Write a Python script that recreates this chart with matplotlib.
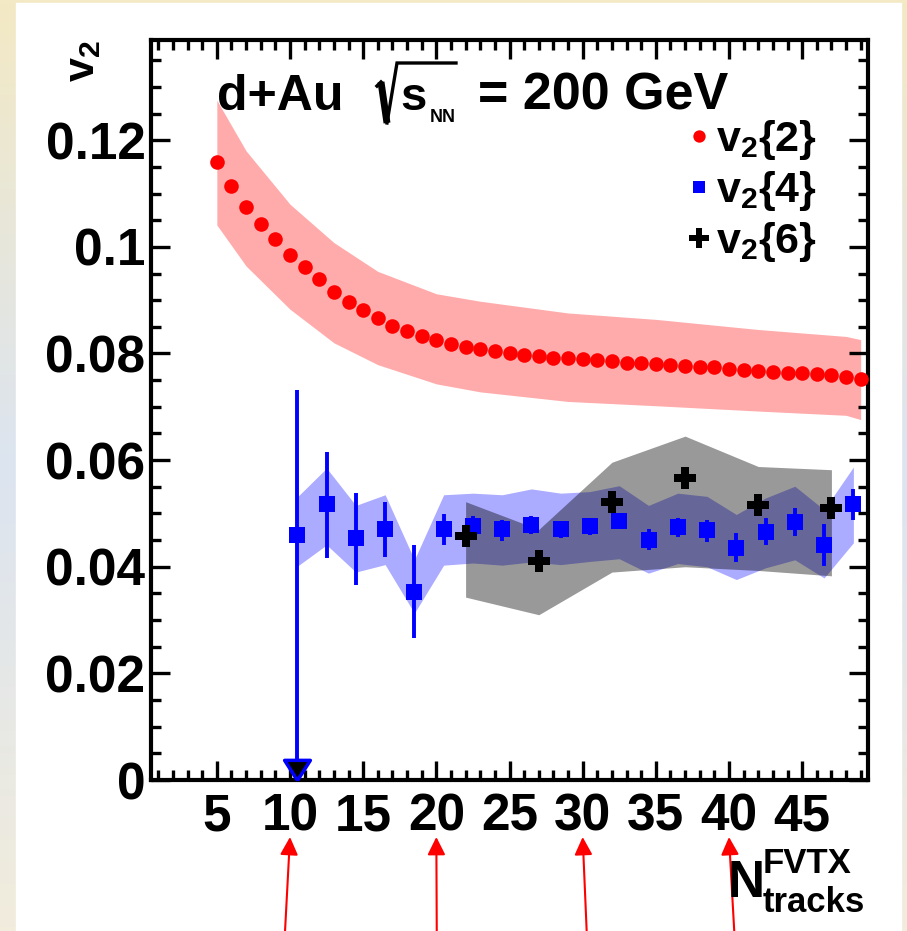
import numpy as np
import matplotlib.pyplot as plt
from matplotlib.lines import Line2D
from matplotlib.patches import Rectangle
from matplotlib.ticker import MultipleLocator, FuncFormatter

plt.rcParams['font.family'] = ['Liberation Sans', 'DejaVu Sans']
plt.rcParams['font.weight'] = 'bold'
plt.rcParams['mathtext.fontset'] = 'custom'
plt.rcParams['mathtext.rm'] = 'Liberation Sans:bold'
plt.rcParams['mathtext.it'] = 'Liberation Sans:bold'
plt.rcParams['mathtext.bf'] = 'Liberation Sans:bold'
plt.rcParams['mathtext.default'] = 'rm'

W, H = 907, 931

# v2{2}: one point per N_tracks bin
n_2 = list(range(5, 50))
v2_2 = [0.1160, 0.1114, 0.1074, 0.1043, 0.1014, 0.0984, 0.0962, 0.0939, 0.0916,
        0.0897, 0.0881, 0.0866, 0.0851, 0.0843, 0.0833, 0.0826, 0.0818, 0.0812,
        0.0808, 0.0804, 0.0801, 0.0797, 0.0796, 0.0792, 0.0791, 0.0789, 0.0787,
        0.0785, 0.0783, 0.0782, 0.0780, 0.0778, 0.0777, 0.0775, 0.0775, 0.0771,
        0.0769, 0.0768, 0.0766, 0.0764, 0.0763, 0.0762, 0.0759, 0.0756, 0.0752]
# v2{2} systematic band
sys2_n = [5, 7, 10, 13, 16, 20, 23, 29, 35, 42, 48, 49]
sys2_hi = [0.1275, 0.1180, 0.1080, 0.1008, 0.0954, 0.0912, 0.0898, 0.0876,
           0.0864, 0.0845, 0.0832, 0.0826]
sys2_lo = [0.1041, 0.0964, 0.0883, 0.0820, 0.0779, 0.0743, 0.0728, 0.0710,
           0.0702, 0.0692, 0.0684, 0.0676]

# v2{4}
n_4 = [10.5, 12.5, 14.5, 16.5, 18.5, 20.5, 22.5, 24.5, 26.5, 28.5,
       30.5, 32.5, 34.5, 36.5, 38.5, 40.5, 42.5, 44.5, 46.5, 48.5]
v2_4 = [0.0460, 0.0517, 0.0453, 0.0470, 0.0353, 0.0470, 0.0476, 0.0471, 0.0479, 0.0471,
        0.0476, 0.0485, 0.0451, 0.0474, 0.0468, 0.0436, 0.0466, 0.0483, 0.0440, 0.0518]
v2_4_err_up = [0.0272, 0.0098, 0.0085, 0.0051, 0.0087, 0.0028, 0.0020, 0.0017, 0.0017, 0.0014,
               0.0015, 0.0015, 0.0020, 0.0018, 0.0019, 0.0027, 0.0026, 0.0027, 0.0041, 0.0027]
v2_4_err_dn = [0.0460, 0.0100, 0.0088, 0.0052, 0.0087, 0.0029, 0.0018, 0.0022, 0.0017, 0.0017,
               0.0016, 0.0015, 0.0019, 0.0018, 0.0021, 0.0028, 0.0026, 0.0025, 0.0039, 0.0030]
sys4_hi = [0.0531, 0.0585, 0.0515, 0.0535, 0.0413, 0.0535, 0.0538, 0.0535, 0.0546, 0.0538,
           0.0541, 0.0552, 0.0515, 0.0538, 0.0532, 0.0498, 0.0529, 0.0551, 0.0507, 0.0587]
sys4_lo = [0.0401, 0.0441, 0.0390, 0.0404, 0.0313, 0.0403, 0.0407, 0.0403, 0.0409, 0.0404,
           0.0410, 0.0415, 0.0388, 0.0406, 0.0400, 0.0376, 0.0398, 0.0413, 0.0379, 0.0445]

# v2{6}
n_6 = [22, 27, 32, 37, 42, 47]
v2_6 = [0.0458, 0.0411, 0.0522, 0.0566, 0.0516, 0.0511]
sys6_hi = [0.0522, 0.0470, 0.0596, 0.0645, 0.0588, 0.0582]
sys6_lo = [0.0343, 0.0310, 0.0390, 0.0400, 0.0393, 0.0383]

xticks = [5, 10, 15, 20, 25, 30, 35, 40, 45]
arrow_ticks = [10, 20, 30, 40]
arrow_tail_dx = [-3.6, 0.3, 2.9, 3.8]   # points, tail offset of each red arrow


def fx(px):
    return px / W


def fy(py):
    return 1 - py / H


fig = plt.figure(figsize=(W / 100, H / 100), dpi=100)

# slide-style background with a white panel
bg = fig.add_axes([0, 0, 1, 1], zorder=-10)
stops = [0.0, 0.5, 1.0]
cols = np.array([[243, 233, 196], [220, 228, 240], [241, 236, 220]]) / 255
t = np.linspace(0, 1, 256)
grad = np.stack([np.interp(t, stops, cols[:, i]) for i in range(3)], axis=-1)[:, None, :]
bg.imshow(grad, aspect='auto', extent=[0, 1, 0, 1], origin='upper')
bg.add_patch(Rectangle((fx(16), 0), (901 - 16) / W, (H - 3) / H,
                       transform=bg.transAxes, color='white'))
bg.set_xlim(0, 1)
bg.set_ylim(0, 1)
bg.axis('off')

ax = fig.add_axes([fx(151), fy(780), (868 - 151) / W, (780 - 40) / H])
ax.set_xlim(0.5, 49.5)
ax.set_ylim(0, 0.1388)

# systematic bands
ax.fill_between(sys2_n, sys2_lo, sys2_hi, color='red', alpha=0.33, lw=0, zorder=1)
ax.fill_between(n_4, sys4_lo, sys4_hi, color='blue', alpha=0.33, lw=0, zorder=2)
ax.fill_between(n_6, sys6_lo, sys6_hi, color='black', alpha=0.4, lw=0, zorder=3)

# points
ax.plot(n_2, v2_2, ls='none', marker='o', ms=10.5, mew=0, color='red', zorder=5)
ax.errorbar(n_4, v2_4, yerr=[v2_4_err_dn, v2_4_err_up], fmt='s', ms=11.5, mew=0,
            color='blue', elinewidth=2.8, capsize=0, zorder=6)
# lower error of the first v2{4} point runs off the axis
arrow_tip = [(0, 0), (-0.64, 1), (0.64, 1), (0, 0)]
ax.plot([n_4[0]], [v2_4[0] - v2_4_err_dn[0]], ls='none', marker=arrow_tip, ms=29,
        mfc='black', mec='blue', mew=2.5, zorder=8, clip_on=False)
ax.plot(n_6, v2_6, ls='none', marker='P', ms=16.5, mew=0, color='black', zorder=7)

# axes styling
for s in ax.spines.values():
    s.set_linewidth(3)
ax.set_xticks(xticks)
ax.xaxis.set_minor_locator(MultipleLocator(1))
ax.yaxis.set_major_locator(MultipleLocator(0.02))
ax.yaxis.set_minor_locator(MultipleLocator(0.005))
ax.yaxis.set_major_formatter(FuncFormatter(lambda v, p: '%g' % round(v, 3)))
ax.tick_params(which='both', direction='in', top=True, right=True, width=2.4,
               labelsize=37)
ax.tick_params(which='major', length=14)
ax.tick_params(which='minor', length=7)
ax.tick_params(axis='x', pad=9)
ax.tick_params(axis='y', pad=4)

# legend
handles = [Line2D([], [], ls='none', marker='o', ms=8.9, mew=0, color='red'),
           Line2D([], [], ls='none', marker='s', ms=9.1, mew=0, color='blue'),
           Line2D([], [], ls='none', marker='P', ms=13.7, mew=0, color='black')]
labels = [r'$v_2\{2\}$', r'$v_2\{4\}$', r'$v_2\{6\}$']
ax.legend(handles, labels, loc='upper left', bbox_to_anchor=(0.746, 0.895),
          frameon=False, fontsize=31, borderpad=0, borderaxespad=0,
          handlelength=0.6, handletextpad=0.1, labelspacing=0.17)

# collision system and energy
fig.text(fx(216.7), fy(110), 'd+Au', fontsize=36, va='baseline', ha='left')
radical_x = [377, 381, 387, 397, 456]
radical_y = [86, 82, 123, 63, 63]
fig.add_artist(Line2D([fx(v) for v in radical_x[1:3]], [fy(v) for v in radical_y[1:3]],
                      color='black', lw=5, solid_capstyle='butt'))
fig.add_artist(Line2D([fx(v) for v in radical_x[:2]], [fy(v) for v in radical_y[:2]],
                      color='black', lw=2.5))
fig.add_artist(Line2D([fx(v) for v in radical_x[2:]], [fy(v) for v in radical_y[2:]],
                      color='black', lw=2.4, solid_joinstyle='miter'))
fig.text(fx(400), fy(110), 's', fontsize=34, va='baseline', ha='left')
fig.text(fx(430), fy(122), 'NN', fontsize=13, va='baseline', ha='left')
fig.text(fx(478), fy(110), '= 200 GeV', fontsize=37.5, va='baseline', ha='left')

# axis titles
ax.text(-0.095, 1.0, r'$v_2$', transform=ax.transAxes, fontsize=31, rotation=90,
        ha='center', va='top')
fig.text(fx(728), fy(897), 'N', fontsize=37, va='baseline', ha='left')
fig.text(fx(763), fy(873), 'FVTX', fontsize=25, va='baseline', ha='left')
fig.text(fx(763), fy(912), 'tracks', fontsize=25, va='baseline', ha='left')

# red arrows from below pointing at the tick labels
for xv, dx in zip(arrow_ticks, arrow_tail_dx):
    ax.annotate('', xy=(xv, fy(837)), xycoords=('data', 'figure fraction'),
                xytext=(dx, -68), textcoords='offset points',
                arrowprops=dict(arrowstyle='-|>', color='red', lw=1.5,
                                mutation_scale=27, shrinkA=0, shrinkB=0),
                annotation_clip=False, zorder=20)

fig.savefig('out.png', dpi=100)
